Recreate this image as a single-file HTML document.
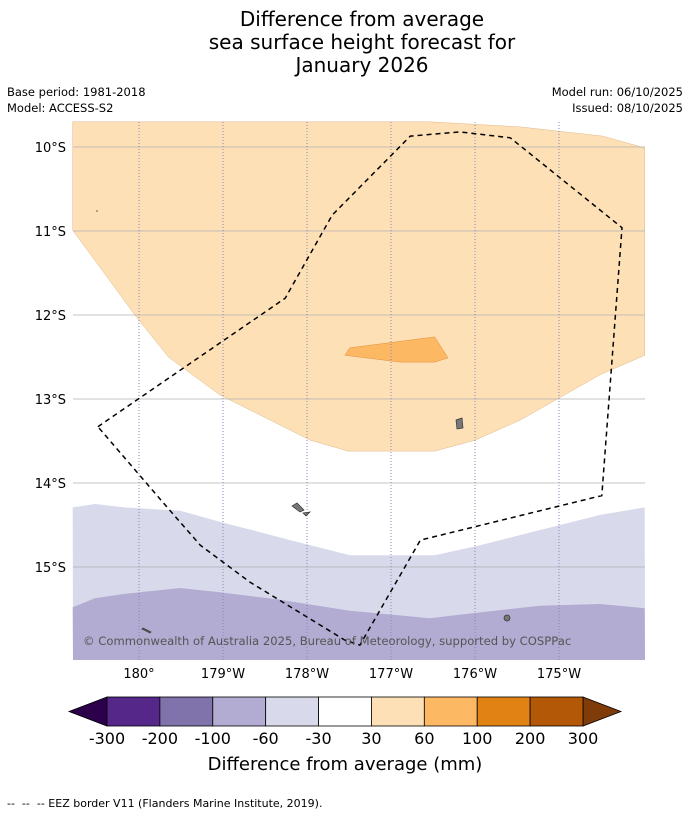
<!DOCTYPE html>
<html><head><meta charset="utf-8"><style>
body{margin:0;background:#fff;font-family:"DejaVu Sans","Liberation Sans",sans-serif;}
.t{position:absolute;}
</style></head><body>
<div style="position:relative;width:690px;height:816px;overflow:hidden">
<div class="t" style="left:0;width:724px;top:8px;text-align:center;font-size:20px;line-height:23px;color:#000">Difference from average<br>sea surface height forecast for<br>January 2026</div>
<div class="t" style="left:7px;top:84px;font-size:11.5px;line-height:16px">Base period: 1981-2018<br>Model: ACCESS-S2</div>
<div class="t" style="right:7px;top:84px;font-size:11.5px;line-height:16px;text-align:right">Model run: 06/10/2025<br>Issued: 08/10/2025</div>
<svg id="svg" width="690" height="816" style="position:absolute;left:0;top:0"></svg>
<div class="t" style="left:7px;top:797px;font-size:11px">--&nbsp; --&nbsp; -- EEZ border V11 (Flanders Marine Institute, 2019).</div>
</div>
<script>
const lonTicks=[-180,-179,-178,-177,-176,-175];
const lonLabels=["180°","179°W","178°W","177°W","176°W","175°W"];
const latTicks=[-10,-11,-12,-13,-14,-15];
const latLabels=["10°S","11°S","12°S","13°S","14°S","15°S"];
const orangeLon=[-180.79,-176.54,-175.46,-174.48,-173.98,-173.98,-174.51,-175.46,-176.0,-176.48,-177.51,-177.96,-178.44,-179.04,-179.65,-180.05,-180.40,-180.79];
const orangeLat=[-9.70,-9.70,-9.76,-9.87,-10.01,-12.48,-12.71,-13.25,-13.49,-13.62,-13.62,-13.49,-13.25,-12.95,-12.5,-12.0,-11.52,-10.99];
const patchLon=[-177.55,-177.49,-176.48,-176.32,-176.48,-176.89];
const patchLat=[-12.48,-12.39,-12.26,-12.51,-12.56,-12.56];
const lightLon=[-180.79,-180.52,-180.17,-179.51,-179.04,-178.20,-177.49,-176.48,-175.94,-175.23,-174.51,-173.98];
const lightLat=[-14.29,-14.25,-14.29,-14.33,-14.46,-14.68,-14.86,-14.86,-14.74,-14.56,-14.38,-14.29];
const midLon=[-180.79,-180.52,-180.17,-179.51,-179.04,-178.32,-177.49,-176.54,-175.94,-175.23,-174.51,-173.98];
const midLat=[-15.48,-15.37,-15.32,-15.25,-15.30,-15.39,-15.52,-15.61,-15.54,-15.46,-15.44,-15.49];
const eezLon=[-180.49,-178.26,-177.70,-176.77,-176.18,-175.58,-174.25,-174.49,-176.65,-177.37,-177.55,-178.68,-179.27,-179.69,-180.49];
const eezLat=[-13.33,-11.80,-10.81,-9.87,-9.82,-9.89,-10.96,-14.15,-14.68,-15.93,-15.87,-15.18,-14.74,-14.26,-13.33];
const cbLabels=["-300","-200","-100","-60","-30","30","60","100","200","300"];
const cbColors=["#542788","#8073ac","#b2abd2","#d8daeb","#ffffff","#fee0b6","#fdb863","#e08214","#b35806"];
const lonMin=-180.786,lonMax=-173.976,latMax=-9.702,latMin=-16.107;
const X0=73,X1=645,Y0=122,Y1=660;
const x=lon=>X0+(lon-lonMin)/(lonMax-lonMin)*(X1-X0);
const y=lat=>Y0+(latMax-lat)/(latMax-latMin)*(Y1-Y0);
const svg=document.getElementById('svg');const NS="http://www.w3.org/2000/svg";
function mk(t,a,p){const e=document.createElementNS(NS,t);for(const k in a)e.setAttribute(k,a[k]);(p||svg).appendChild(e);return e;}
function pts(lo,la){return lo.map((v,i)=>x(v).toFixed(1)+","+y(la[i]).toFixed(1)).join(" ");}
let e;
e=mk('polygon',{points:pts(orangeLon,orangeLat),fill:'#fee0b6',stroke:'#e0b88a','stroke-width':0.5});


e=mk('polygon',{points:pts(patchLon,patchLat),fill:'#fdb863',stroke:'#e09040','stroke-width':0.5});


e=mk('polygon',{points:pts(lightLon.concat([lonMax,lonMin]),lightLat.concat([latMin,latMin])),fill:'#d8daeb'});


e=mk('polygon',{points:pts(midLon.concat([lonMax,lonMin]),midLat.concat([latMin,latMin])),fill:'#b2abd2'});


latTicks.forEach((v,i)=>{
 e=mk('line',{x1:X0,x2:X1,y1:y(v),y2:y(v),stroke:'#b0b0b0','stroke-width':0.8});
 
 
 e=mk('text',{x:X0-7,y:y(v)+5,'text-anchor':'end','font-size':13,fill:'#000'});e.textContent=latLabels[i];
 
 
});
lonTicks.forEach((v,i)=>{
 e=mk('line',{x1:x(v),x2:x(v),y1:Y0,y2:Y1,stroke:'#8888bb','stroke-width':1,'stroke-dasharray':'1,2'});
 
 
 e=mk('text',{x:x(v),y:Y1+18,'text-anchor':'middle','font-size':13,fill:'#000'});e.textContent=lonLabels[i];
 
 
});
[[459,424,'M456,420 L462,418 L463,428 L457,429 Z'],[298,508,'M292,506 L297,503 L304,510 L300,512 Z M303,513 L310,512 L306,516 Z'],[507,618,''],[147,630,'M143,628 L151,632 L150,633 L142,629 Z']].forEach(d=>{
 if(d[2]) e=mk('path',{d:d[2],fill:'#777',stroke:'#333','stroke-width':0.7});
 else e=mk('circle',{cx:d[0],cy:d[1],r:3,fill:'#777',stroke:'#333','stroke-width':0.7});
 
 
});
e=mk('circle',{cx:97,cy:211,r:0.8,fill:'#555'});


e=mk('polyline',{points:pts(eezLon,eezLat),fill:'none',stroke:'#000','stroke-width':1.5,'stroke-dasharray':'5,4'});


e=mk('text',{x:83,y:645,'font-size':11.6,fill:'#555'});e.textContent="© Commonwealth of Australia 2025, Bureau of Meteorology, supported by COSPPac";


// colorbar
const cbX0=107,cbX1=583,cbY0=697,cbY1=726,w=(cbX1-cbX0)/cbColors.length;
e=mk('polygon',{points:`${cbX0},${cbY0} 69,${(cbY0+cbY1)/2} ${cbX0},${cbY1}`,fill:'#2d004b',stroke:'#000','stroke-width':0.8});


e=mk('polygon',{points:`${cbX1},${cbY0} 621,${(cbY0+cbY1)/2} ${cbX1},${cbY1}`,fill:'#7f3b08',stroke:'#000','stroke-width':0.8});


cbColors.forEach((c,i)=>{
 e=mk('rect',{x:cbX0+i*w,y:cbY0,width:w,height:cbY1-cbY0,fill:c,stroke:'#000','stroke-width':0.8});
 
 
});
cbLabels.forEach((l,i)=>{
 e=mk('text',{x:cbX0+i*w,y:744,'text-anchor':'middle','font-size':16,fill:'#000'});e.textContent=l;
 
 
});
e=mk('text',{x:345,y:770,'text-anchor':'middle','font-size':18,fill:'#000'});e.textContent="Difference from average (mm)";


</script>
</body></html>
